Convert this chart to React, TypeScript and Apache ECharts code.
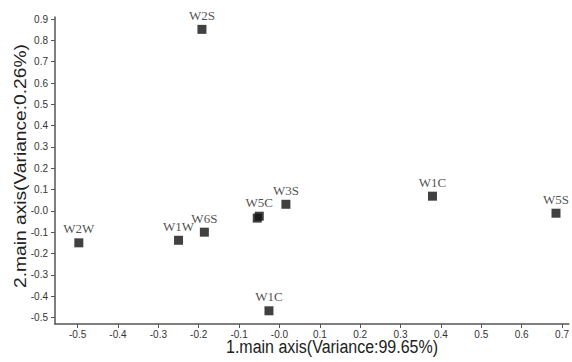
import React, { useEffect, useRef } from "react";
import * as echarts from "echarts";

const names = ["W2S", "W2W", "W1W", "W6S", "W5C", "W5C", "W3S", "W1C", "W1C", "W5S"];
const xValues = [-0.192, -0.497, -0.25, -0.186, -0.05, -0.055, 0.016, -0.026, 0.379, 0.685];
const yValues = [0.852, -0.15, -0.138, -0.1, -0.025, -0.034, 0.031, -0.469, 0.069, -0.011];
const showLabel = [true, true, true, true, true, false, true, true, true, true];
const xTicks = [-0.5, -0.4, -0.3, -0.2, -0.1, 0, 0.1, 0.2, 0.3, 0.4, 0.5, 0.6, 0.7];
const yTicks = [-0.5, -0.4, -0.3, -0.2, -0.1, 0, 0.1, 0.2, 0.3, 0.4, 0.5, 0.6, 0.7, 0.8, 0.9];
const xName = "1.main axis(Variance:99.65%)";
const yName = "2.main axis(Variance:0.26%)";

const fmt = (v: number) => (Math.abs(v) < 1e-9 ? "-0.0" : v.toFixed(1));

export default function App() {
  const ref = useRef<HTMLDivElement>(null);
  useEffect(() => {
    if (!ref.current) return;
    const chart = echarts.init(ref.current, null, { renderer: "svg" });
    const axisCommon = {
      type: "value" as const,
      splitLine: { show: false },
      axisLine: { show: true, onZero: false, lineStyle: { color: "#555", width: 1.5 } },
      axisTick: { show: true, length: 4, lineStyle: { color: "#555" } },
      axisLabel: {
        color: "#333",
        fontSize: 10,
        fontFamily: "Liberation Sans",
        formatter: (v: number) => fmt(v),
      },
    };
    chart.setOption({
      animation: false,
      backgroundColor: "#fff",
      grid: { left: 55, right: 0, top: 17, bottom: 38, containLabel: false },
      xAxis: {
        ...axisCommon,
        min: -0.556,
        max: 0.717,
        axisTick: { ...axisCommon.axisTick, customValues: xTicks },
        axisLabel: { ...axisCommon.axisLabel, customValues: xTicks, margin: 5 },
      },
      yAxis: {
        ...axisCommon,
        min: -0.531,
        max: 0.91,
        axisTick: { ...axisCommon.axisTick, customValues: yTicks },
        axisLabel: { ...axisCommon.axisLabel, customValues: yTicks, margin: 7 },
      },
      graphic: [
        {
          type: "text",
          x: 332,
          y: 347,
          scaleY: 1.1,
          style: {
            text: xName,
            fontSize: 16,
            fontFamily: "Liberation Sans",
            fill: "#222",
            align: "center",
            verticalAlign: "middle",
          },
        },
        {
          type: "text",
          x: 21,
          y: 166,
          rotation: Math.PI / 2,
          scaleX: 1.2,
          style: {
            text: yName,
            fontSize: 16,
            fontFamily: "Liberation Sans",
            fill: "#222",
            align: "center",
            verticalAlign: "middle",
          },
        },
      ],
      series: [
        {
          type: "scatter",
          symbol: "rect",
          symbolSize: 9,
          itemStyle: { color: "#111" },
          data: xValues.map((x, i) => ({
            value: [x, yValues[i]],
            name: names[i],
            label: { show: showLabel[i] },
          })),
          label: {
            position: "top",
            distance: 3,
            formatter: (p: any) => p.name,
            fontFamily: "Liberation Serif",
            fontSize: 13,
            color: "#222",
          },
        },
      ],
    });
    return () => chart.dispose();
  }, []);
  return (
    <div
      ref={ref}
      style={{ position: "fixed", left: 0, top: 0, width: 572, height: 362 }}
    />
  );
}
